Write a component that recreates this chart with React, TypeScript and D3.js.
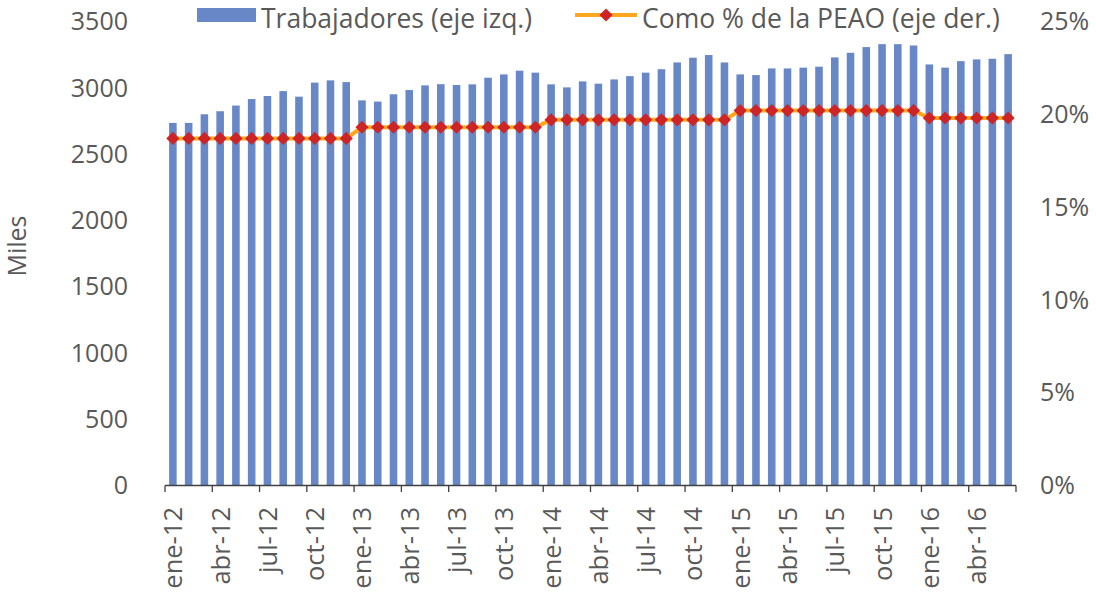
import React from "react";
import * as d3 from "d3";

const monthNames = ["ene", "feb", "mar", "abr", "may", "jun", "jul", "ago", "sep", "oct", "nov", "dic"];
const years = ["12", "13", "14", "15", "16"];

const workers2012 = [2735, 2735, 2800, 2823, 2866, 2915, 2938, 2975, 2933, 3039, 3056, 3043];
const workers2013 = [2905, 2896, 2951, 2983, 3018, 3027, 3021, 3026, 3076, 3101, 3129, 3114];
const workers2014 = [3026, 3003, 3048, 3031, 3063, 3088, 3114, 3140, 3191, 3227, 3247, 3191];
const workers2015 = [3101, 3096, 3146, 3146, 3152, 3159, 3229, 3264, 3307, 3329, 3329, 3319];
const workers2016 = [3176, 3152, 3201, 3214, 3219, 3254];

const pct2012 = [18.7, 18.7, 18.7, 18.7, 18.7, 18.7, 18.7, 18.7, 18.7, 18.7, 18.7, 18.7];
const pct2013 = [19.3, 19.3, 19.3, 19.3, 19.3, 19.3, 19.3, 19.3, 19.3, 19.3, 19.3, 19.3];
const pct2014 = [19.7, 19.7, 19.7, 19.7, 19.7, 19.7, 19.7, 19.7, 19.7, 19.7, 19.7, 19.7];
const pct2015 = [20.2, 20.2, 20.2, 20.2, 20.2, 20.2, 20.2, 20.2, 20.2, 20.2, 20.2, 20.2];
const pct2016 = [19.8, 19.8, 19.8, 19.8, 19.8, 19.8];

const leftTicks = [0, 500, 1000, 1500, 2000, 2500, 3000, 3500];
const rightTicks = [0, 5, 10, 15, 20, 25];

const workers = [...workers2012, ...workers2013, ...workers2014, ...workers2015, ...workers2016];
const pct = [...pct2012, ...pct2013, ...pct2014, ...pct2015, ...pct2016];
const categories = workers.map((_, i) => `${monthNames[i % 12]}-${years[Math.floor(i / 12)]}`);

const W = 1096;
const H = 593;
const FONT = "'Open Sans', sans-serif";
const TEXT = "#595959";
const BAR = "#6787C6";
const LINE = "#FFA61F";
const MARK = "#CC2427";

export default function App() {
  const x = d3.scaleBand<string>().domain(categories).range([165, 1016]).paddingInner(0.52).paddingOuter(0.26);
  const xStep = d3.scaleBand<string>().domain(categories).range([165, 1016]);
  const yL = d3.scaleLinear().domain([0, 3500]).range([485.5, 21.5]);
  const yR = d3.scaleLinear().domain([0, 25]).range([485.5, 21.5]);
  const cx = (c: string) => (xStep(c) as number) + xStep.bandwidth() / 2;

  const line = d3
    .line<number>()
    .x((_, i) => cx(categories[i]))
    .y((d) => yR(d));

  const tickIdx = categories.map((_, i) => i).filter((i) => i % 3 === 0);
  const diamond = d3.symbol().type(d3.symbolDiamond2).size(110)();

  return (
    <svg width={W} height={H} style={{ position: "absolute", left: 0, top: 0 }} fontFamily={FONT}>
      <rect width={W} height={H} fill="#fff" />
      {/* bars */}
      {workers.map((v, i) => (
        <rect
          key={i}
          x={x(categories[i])}
          y={yL(v)}
          width={x.bandwidth()}
          height={yL(0) - yL(v)}
          fill={BAR}
        />
      ))}
      {/* x axis */}
      <line x1={165} x2={1016} y1={485.5} y2={485.5} stroke="#404040" strokeWidth={1.3} />
      {tickIdx.map((i) => (
        <line key={i} x1={xStep(categories[i])} x2={xStep(categories[i])} y1={485.5} y2={492} stroke="#404040" strokeWidth={1.3} />
      ))}
      <line x1={1016} x2={1016} y1={485.5} y2={492} stroke="#404040" strokeWidth={1.3} />
      {tickIdx.map((i) => {
        const c = categories[i];
        return (
          <text
            key={c}
            transform={`translate(${cx(c) + 9.5},${507}) rotate(-90)`}
            textAnchor="end"
            fontSize={25.5}
            fill={TEXT}
          >
            {c}
          </text>
        );
      })}
      {/* left axis */}
      {leftTicks.map((t) => (
        <text key={t} x={128} y={yL(t)} dy="0.35em" textAnchor="end" fontSize={25} fill={TEXT}>
          {t}
        </text>
      ))}
      <text transform="translate(26,246) rotate(-90)" textAnchor="middle" fontSize={25} fill={TEXT}>
        Miles
      </text>
      {/* right axis */}
      {rightTicks.map((t) => (
        <text key={t} x={1040} y={yR(t)} dy="0.35em" textAnchor="start" fontSize={25} fill={TEXT}>
          {t}%
        </text>
      ))}
      {/* line */}
      <path d={line(pct) as string} fill="none" stroke={LINE} strokeWidth={4} />
      {pct.map((v, i) => (
        <path key={i} d={diamond as string} transform={`translate(${cx(categories[i])},${yR(v)})`} fill={MARK} />
      ))}
      {/* legend */}
      <rect x={197} y={8} width={59} height={14} fill={BAR} />
      <text x={261} y={28} fontSize={26.5} fill={TEXT}>
        Trabajadores (eje izq.)
      </text>
      <line x1={575} x2={637} y1={15} y2={15} stroke={LINE} strokeWidth={4} />
      <path d={diamond as string} transform="translate(606,15)" fill={MARK} />
      <text x={642} y={28} fontSize={26.5} fill={TEXT}>
        Como % de la PEAO (eje der.)
      </text>
    </svg>
  );
}
